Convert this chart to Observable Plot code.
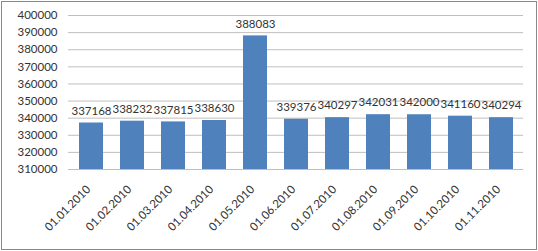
<!DOCTYPE html>
<html>
<head>
<meta charset="utf-8">
<script src="https://cdn.jsdelivr.net/npm/d3@7"></script>
<script src="https://cdn.jsdelivr.net/npm/@observablehq/plot@0.6"></script>
<style>
  html, body { margin: 0; padding: 0; background: #fff; }
  #chart svg { display: block; outline: 1px solid #8a8a8a; outline-offset: -2px; }
</style>
</head>
<body>
<div id="chart"></div>
<script>
const dates = ["01.01.2010","01.02.2010","01.03.2010","01.04.2010","01.05.2010","01.06.2010","01.07.2010","01.08.2010","01.09.2010","01.10.2010","01.11.2010"];
const values = [337168, 338232, 337815, 338630, 388083, 339376, 340297, 342031, 342000, 341160, 340294];
const yTicks = [310000, 320000, 330000, 340000, 350000, 360000, 370000, 380000, 390000, 400000];
const yMin = 310000, yMax = 400000;

const data = dates.map((d, i) => ({date: d, value: values[i]}));

const chart = Plot.plot({
  width: 538,
  height: 251,
  marginLeft: 68,
  marginRight: 15,
  marginTop: 15,
  marginBottom: 82,
  style: {fontFamily: "Lato", fontSize: "11.5px", color: "#333", background: "#fff"},
  x: {domain: dates, paddingInner: 0.42, paddingOuter: 0.21, label: null},
  y: {domain: [yMin, yMax], label: null},
  marks: [
    Plot.ruleY(yTicks, {stroke: "#bfbfbf", strokeWidth: 1}),
    Plot.barY(data, {x: "date", y1: () => yMin, y2: "value", fill: "#4f81bd"}),
    Plot.text(data, {x: "date", y: "value", text: d => String(d.value), dy: -12, fill: "#333", fontSize: 11.5}),
    Plot.axisY({ticks: yTicks, tickSize: 0, tickPadding: 11, tickFormat: d => String(d), fontSize: 11.5}),
    Plot.axisX({tickSize: 0, tickRotate: -45, tickPadding: 18, dx: -3, fontSize: 11.5})
  ]
});
document.getElementById("chart").appendChild(chart);
</script>
</body>
</html>
